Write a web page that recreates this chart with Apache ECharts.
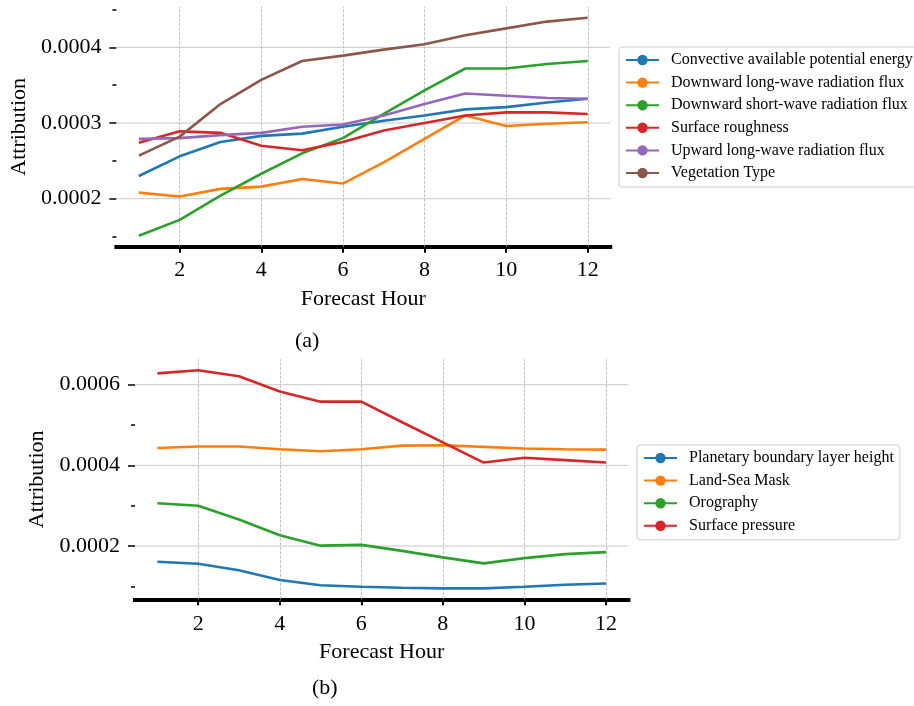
<!DOCTYPE html>
<html>
<head>
<meta charset="utf-8">
<script src="https://cdn.jsdelivr.net/npm/echarts@6/dist/echarts.min.js"></script>
<style>
html,body{margin:0;padding:0;background:#fff;}
#chart{width:914px;height:706px;}
</style>
</head>
<body>
<div id="chart"></div>
<script>
// ---------- data ----------
const hours = [1,2,3,4,5,6,7,8,9,10,11,12];
const xTicks = [2,4,6,8,10,12];
const xRange = [0.45, 12.55];

// panel (a)
const namesA = ['Convective available potential energy','Downward long-wave radiation flux','Downward short-wave radiation flux','Surface roughness','Upward long-wave radiation flux','Vegetation Type'];
const capeA  = [0.000230,0.000256,0.000275,0.000283,0.000286,0.000295,0.000303,0.000310,0.000318,0.000321,0.000327,0.000332];
const dlwA   = [0.000208,0.000203,0.000213,0.000216,0.000226,0.000220,0.000248,0.000279,0.000310,0.000296,0.000299,0.000301];
const dswA   = [0.000151,0.000172,0.000204,0.000233,0.000260,0.000280,0.000312,0.000343,0.000372,0.000372,0.000378,0.000382];
const roughA = [0.000274,0.000289,0.000287,0.000270,0.000264,0.000275,0.000290,0.000300,0.000310,0.000314,0.000314,0.000312];
const ulwA   = [0.000279,0.000280,0.000284,0.000287,0.000295,0.000298,0.000310,0.000325,0.000339,0.000336,0.000333,0.000332];
const vegA   = [0.000257,0.000282,0.000325,0.000357,0.000382,0.000389,0.000397,0.000404,0.000416,0.000425,0.000434,0.000439];
const yMajorA = [0.0002,0.0003,0.0004];
const yMinorA = [0.00015,0.00025,0.00035,0.00045];
const yRangeA = [0.0001366, 0.0004534];

// panel (b)
const namesB = ['Planetary boundary layer height','Land-Sea Mask','Orography','Surface pressure'];
const pblB  = [0.000161,0.000156,0.000140,0.000116,0.000103,0.000099,0.0000967,0.0000952,0.0000952,0.000099,0.000104,0.000107];
const lsmB  = [0.000443,0.000447,0.000447,0.000440,0.000435,0.000440,0.000449,0.000450,0.000446,0.000442,0.000440,0.000439];
const oroB  = [0.000306,0.000300,0.000266,0.000227,0.000201,0.000203,0.000188,0.000172,0.000157,0.000170,0.000180,0.000185];
const spB   = [0.000628,0.000636,0.000621,0.000583,0.000558,0.000558,0.000507,0.000457,0.000407,0.000419,0.000413,0.000407];
const yMajorB = [0.0002,0.0004,0.0006];
const yMinorB = [0.0001,0.0003,0.0005];
const yRangeB = [0.000068, 0.000663];

const colors = ['#1f77b4','#ff7f0e','#2ca02c','#d62728','#9467bd','#8c564b'];
const FONT = '"Liberation Serif", "Times New Roman", serif';

// ---------- build ----------
const chart = echarts.init(document.getElementById('chart'), null, {renderer:'canvas'});

function pairs(arr){ return hours.map((h,i)=>[h, arr[i]]); }

function xAxisFor(gridIndex, margin){
  return {
    type:'value', gridIndex, min:xRange[0], max:xRange[1],
    name:'Forecast Hour', nameLocation:'middle', nameGap:42,
    nameTextStyle:{fontFamily:FONT, fontSize:22, color:'#000'},
    axisLine:{show:true, lineStyle:{color:'#000', width:4, cap:'square'}},
    axisTick:{show:true, length:6, lineStyle:{color:'#000', width:2}, customValues:xTicks},
    axisLabel:{show:true, margin, fontFamily:FONT, fontSize:22, color:'#000', customValues:xTicks},
    splitLine:{show:false}
  };
}
function yAxisFor(gridIndex, range, major, nameGap){
  return {
    type:'value', gridIndex, min:range[0], max:range[1], position:'left',
    name:'Attribution', nameLocation:'middle', nameGap,
    nameTextStyle:{fontFamily:FONT, fontSize:22, color:'#000'},
    axisLine:{show:false},
    axisTick:{show:true, length:7, lineStyle:{color:'#000', width:1.5}, customValues:major},
    axisLabel:{show:true, margin:15, fontFamily:FONT, fontSize:22, color:'#000', customValues:major,
      formatter:(v)=>v.toFixed(4)},
    splitLine:{show:false}
  };
}
function yMinorFor(gridIndex, range, minor){
  return {
    type:'value', gridIndex, min:range[0], max:range[1], position:'left', offset:0,
    axisLine:{show:false},
    axisTick:{show:true, length:4, lineStyle:{color:'#000', width:1.5}, customValues:minor},
    axisLabel:{show:false},
    splitLine:{show:false}
  };
}
function vGridMarkLine(){
  return {
    silent:true, symbol:['none','none'], label:{show:false}, animation:false, z:1,
    data: xTicks.map(v=>({xAxis:v, lineStyle:{color:'#b0b0b0', width:0.8, type:[3,1.5]}}))
  };
}
function hGridSeries(v, xIdx, yIdx){
  return {
    type:'line', xAxisIndex:xIdx, yAxisIndex:yIdx, data:[[xRange[0], v],[xRange[1], v]],
    symbol:'none', silent:true, z:1, animation:false,
    lineStyle:{color:'#c8c8c8', width:1}, emphasis:{disabled:true}, tooltip:{show:false}
  };
}
function lineSeries(name, arr, color, xIdx, yIdx){
  return {
    name, type:'line', xAxisIndex:xIdx, yAxisIndex:yIdx, data:pairs(arr),
    symbol:'circle', showSymbol:false, z:3,
    lineStyle:{color, width:2.6}, itemStyle:{color},
    emphasis:{disabled:true}, animation:false
  };
}

const seriesA = [capeA, dlwA, dswA, roughA, ulwA, vegA].map((a,i)=>lineSeries(namesA[i], a, colors[i], 0, 0));
const seriesB = [pblB, lsmB, oroB, spB].map((a,i)=>lineSeries(namesB[i], a, colors[i], 1, 2));
seriesA[0].markLine = vGridMarkLine();
seriesB[0].markLine = vGridMarkLine();
const gridLinesA = yMajorA.map(v=>hGridSeries(v, 0, 0));
const gridLinesB = yMajorB.map(v=>hGridSeries(v, 1, 2));

const legendCommon = {
  orient:'vertical', itemWidth:33, itemHeight:13, itemGap:6.6,
  backgroundColor:'#fff', borderColor:'#cccccc', borderWidth:1, borderRadius:3,
  textStyle:{fontFamily:FONT, fontSize:16, color:'#000', lineHeight:16, padding:[0,0,0,7]},
  selectedMode:false
};

chart.setOption({
  animation:false,
  grid:[
    {left:115.6, right:303.8, top:6.9, bottom:459.3, containLabel:false},
    {left:135, right:285.6, top:359.3, bottom:106.7, containLabel:false}
  ],
  xAxis:[xAxisFor(0, 13), xAxisFor(1, 14)],
  yAxis:[
    yAxisFor(0, yRangeA, yMajorA, 85),
    yMinorFor(0, yRangeA, yMinorA),
    yAxisFor(1, yRangeB, yMajorB, 86),
    yMinorFor(1, yRangeB, yMinorB)
  ],
  legend:[
    Object.assign({}, legendCommon, {left:619, top:47, padding:[5,6,6,6], data:namesA}),
    Object.assign({}, legendCommon, {left:637, top:445, padding:[5,6,6,6], data:namesB})
  ],
  graphic:[
    {type:'text', left:309-14, top:342-12, style:{text:'(a)', font:'22px ' + FONT, fill:'#000'}},
    {type:'text', left:326-14, top:689-12, style:{text:'(b)', font:'22px ' + FONT, fill:'#000'}}
  ],
  series: gridLinesA.concat(gridLinesB, seriesA, seriesB)
});
</script>
</body>
</html>
